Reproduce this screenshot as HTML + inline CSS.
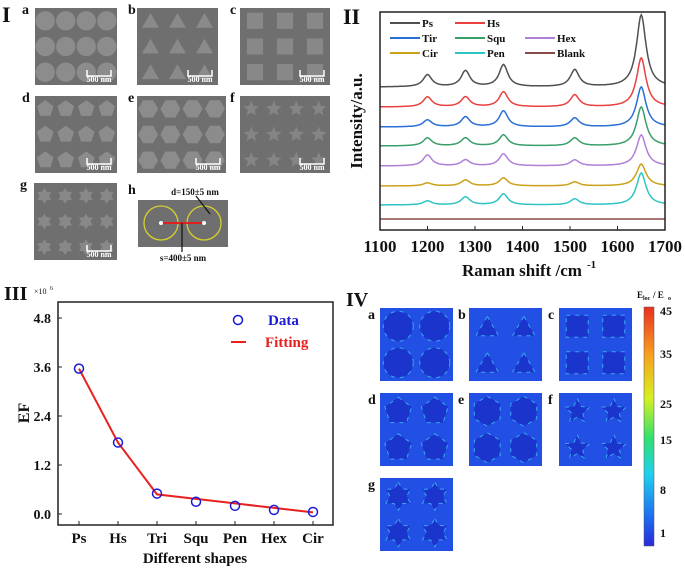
<!DOCTYPE html>
<html><head><meta charset="utf-8"><style>
html,body{margin:0;padding:0;background:#fff}
svg{display:block;font-family:"Liberation Serif",serif;font-weight:bold}
</style></head><body>
<svg id="fig" width="685" height="571" viewBox="0 0 685 571" xmlns="http://www.w3.org/2000/svg">
<defs>
<linearGradient id="jet" x1="0" y1="1" x2="0" y2="0">
<stop offset="0" stop-color="#2a2ad8"/><stop offset="0.12" stop-color="#1d6cf0"/><stop offset="0.3" stop-color="#20d0f0"/><stop offset="0.45" stop-color="#30e070"/><stop offset="0.62" stop-color="#d8f020"/><stop offset="0.8" stop-color="#f8a020"/><stop offset="1" stop-color="#e83020"/>
</linearGradient>
</defs>
<g id="p1"></g>
<g id="p2"></g>
<g id="p3"></g>
<g id="p4"></g>
</svg>
<script>
const NS="http://www.w3.org/2000/svg";
function mk(p,t,a,txt){const e=document.createElementNS(NS,t);for(const k in a)e.setAttribute(k,a[k]);if(txt!==undefined)e.textContent=txt;p.appendChild(e);return e;}

// ---- Panel II data ----
const ramanSeries=["Ps","Hs","Tir","Squ","Hex","Cir","Pen","Blank"];
const ramanColors=["#505050","#e8413f","#2a6fd6","#3a9e6a","#b07fd8","#c9a21a","#2ec4c4","#8b4a4a"];
const ramanPeakPos=[1200,1280,1360,1510,1650];
const ramanOffsets=[143,123,103,84,64,44,25,11];
const ramanPsAmp=[12,16,22,17,72];
const ramanHsAmp=[10,10,15,12,49];
const ramanTirAmp=[7,10,16,9,40];
const ramanSquAmp=[8,8,11,8,39];
const ramanHexAmp=[11,6,12,6,31];
const ramanCirAmp=[3,6,8,4,22];
const ramanPenAmp=[4,8,11,6,32];
const ramanBlankAmp=[0,0,0,0,0];
const ramanAmps=[ramanPsAmp,ramanHsAmp,ramanTirAmp,ramanSquAmp,ramanHexAmp,ramanCirAmp,ramanPenAmp,ramanBlankAmp];
const ramanXTicks=[1100,1200,1300,1400,1500,1600,1700];

// ---- Panel III data ----
const efCategories=["Ps","Hs","Tri","Squ","Pen","Hex","Cir"];
const efData=[3.56,1.75,0.50,0.30,0.20,0.10,0.05];
const efFit=[3.56,1.75,0.48,0.37,0.26,0.15,0.04];
const efYTicks=[0.0,1.2,2.4,3.6,4.8];
const cbTicks=[1,8,15,25,35,45];

// ===== Panel I =====
const p1=document.getElementById('p1');
mk(p1,'text',{x:2,y:22,'font-size':22,fill:'#111'},'I');
const tiles=[["a",35,8,82,77,"circle"],["b",137,8,81,77,"tri"],["c",240,8,90,77,"sq"],
["d",35,96,82,77,"pent"],["e",137,96,89,77,"hex"],["f",240,96,90,77,"star"],["g",34,183,83,77,"star6"]];
function poly(n,cx,cy,r,rot,inner){let pts=[];const m=inner?2*n:n;for(let i=0;i<m;i++){const a=rot+i*2*Math.PI/m;const rr=inner&&i%2?r*inner:r;pts.push((cx+rr*Math.sin(a)).toFixed(1)+","+(cy-rr*Math.cos(a)).toFixed(1));}return pts.join(" ");}
tiles.forEach(t=>{const [l,x,y,w,h,s]=t;
 const g=mk(p1,'g',{});
 
 
 mk(g,'rect',{x:x,y:y,width:w,height:h,fill:'#6f6f6f'});
 const cols=s==="sq"||s==="tri"?3:4;const sx=w/cols,sy=h/3;
 for(let i=0;i<cols;i++)for(let j=0;j<3;j++){const cx=x+sx*(i+0.5),cy=y+sy*(j+0.5);let r=Math.min(sx,sy)*0.45;
  if(s==="circle")mk(g,'circle',{cx,cy,r:r*1.05,fill:'#8c8c8c'});
  else if(s==="sq")mk(g,'rect',{x:cx-r*0.7,y:cy-r*0.7,width:r*1.4,height:r*1.4,fill:'#888'});
  else if(s==="tri")mk(g,'polygon',{points:poly(3,cx,cy+2,r*0.85,0),fill:'#8a8a8a'});
  else if(s==="pent")mk(g,'polygon',{points:poly(5,cx,cy,r*0.95,0),fill:'#8c8c8c'});
  else if(s==="hex")mk(g,'polygon',{points:poly(6,cx,cy,r,Math.PI/6),fill:'#8c8c8c'});
  else if(s==="star")mk(g,'polygon',{points:poly(5,cx,cy,r*0.8,0,0.45),fill:'#858585'});
  else mk(g,'polygon',{points:poly(6,cx,cy,r*0.85,0,0.6),fill:'#888'});}
 mk(g,'path',{d:`M${x+w-30} ${y+h-15}v6h24v-6`,stroke:'#fff','stroke-width':1.5,fill:'none'});
 mk(g,'text',{x:x+w-18,y:y+h-3,'font-size':8,fill:'#fff','text-anchor':'middle'},'500 nm');
 const lx=x<100?22:(x<200?128:230);
 mk(p1,'text',{x:l==="g"?20:lx,y:y+6,'font-size':14,fill:'#111'},l);
});
mk(p1,'text',{x:128,y:194,'font-size':14,fill:'#111'},'h');
mk(p1,'rect',{x:138,y:200,width:90,height:47,fill:'#6f6f6f'});
mk(p1,'circle',{cx:161,cy:223,r:17,fill:'none',stroke:'#d8d030','stroke-width':1.3});
mk(p1,'circle',{cx:204,cy:223,r:17,fill:'none',stroke:'#d8d030','stroke-width':1.3});
mk(p1,'line',{x1:161,y1:223,x2:204,y2:223,stroke:'#e02020','stroke-width':2});
mk(p1,'circle',{cx:161,cy:223,r:2,fill:'#fff'});mk(p1,'circle',{cx:204,cy:223,r:2,fill:'#fff'});
mk(p1,'line',{x1:196,y1:196,x2:210,y2:214,stroke:'#111','stroke-width':1.2});
mk(p1,'line',{x1:182,y1:223,x2:182,y2:252,stroke:'#111','stroke-width':1.2});
mk(p1,'text',{x:195,y:195,'font-size':9,fill:'#111','text-anchor':'middle'},'d=150±5 nm');
mk(p1,'text',{x:183,y:261,'font-size':9,fill:'#111','text-anchor':'middle'},'s=400±5 nm');

// ===== Panel II =====
const p2=document.getElementById('p2');
const X0=380,X1=665,Y0=12,Y1=230;
const xs=v=>X0+(v-1100)/600*(X1-X0);
const ys=v=>Y1-v;
mk(p2,'text',{x:343,y:24,'font-size':22,fill:'#111'},'II');
ramanSeries.forEach((n,si)=>{let d="";
 for(let w=1100;w<=1700;w+=2){let v=ramanOffsets[si];
  ramanPeakPos.forEach((p,k)=>{const gam=k===4?12:11;v+=ramanAmps[si][k]*gam*gam/((w-p)*(w-p)+gam*gam);});
  d+=(w===1100?"M":"L")+xs(w).toFixed(1)+" "+ys(v).toFixed(1);}
 const e=mk(p2,'path',{d,fill:'none',stroke:ramanColors[si],'stroke-width':1.5});
 
 
});
mk(p2,'rect',{x:X0,y:Y0,width:X1-X0,height:Y1-Y0,fill:'none',stroke:'#222','stroke-width':1.5});
ramanXTicks.forEach(t=>{mk(p2,'line',{x1:xs(t),y1:Y1,x2:xs(t),y2:Y1-4,stroke:'#222'});
 mk(p2,'text',{x:xs(t),y:252,'font-size':17,'text-anchor':'middle',fill:'#111'},t);});
mk(p2,'text',{x:522,y:276,'font-size':17,'text-anchor':'middle',fill:'#111'},'Raman shift /cm');
mk(p2,'text',{x:587,y:268,'font-size':11,fill:'#111'},'-1');
mk(p2,'text',{x:0,y:0,'font-size':17,'text-anchor':'middle',fill:'#111',transform:'translate(362,121) rotate(-90)'},'Intensity/a.u.');
const legPos=[[390,23],[455,23],[390,38],[455,38],[525,38],[390,53],[455,53],[525,53]];
const legOrder=[0,1,2,3,4,5,6,7];
legOrder.forEach((si,i)=>{const [lx,ly]=legPos[i];const g=mk(p2,'g',{});
 
 
 mk(g,'line',{x1:lx,y1:ly,x2:lx+30,y2:ly,stroke:ramanColors[si],'stroke-width':2});
 mk(g,'text',{x:lx+32,y:ly+4,'font-size':11,fill:'#111'},ramanSeries[si]);});

// ===== Panel III =====
const p3=document.getElementById('p3');
const A0=58,A1=333,B0=302,B1=525;
const cx3=i=>79+i*39;
const cy3=v=>514-v/1.2*49;
mk(p3,'text',{x:4,y:300,'font-size':20,fill:'#111'},'III');
mk(p3,'text',{x:34,y:294,'font-size':8,'font-weight':'normal',fill:'#111'},'×10');
mk(p3,'text',{x:50,y:290,'font-size':6,'font-weight':'normal',fill:'#111'},'6');
mk(p3,'rect',{x:A0,y:B0,width:A1-A0,height:B1-B0,fill:'none',stroke:'#222','stroke-width':1.5});
efYTicks.forEach(t=>{mk(p3,'line',{x1:A0,y1:cy3(t),x2:A0+4,y2:cy3(t),stroke:'#222'});
 mk(p3,'text',{x:51,y:cy3(t)+5,'font-size':14,'text-anchor':'end',fill:'#111'},t.toFixed(1));});
efCategories.forEach((c,i)=>{mk(p3,'line',{x1:cx3(i),y1:B1,x2:cx3(i),y2:B1-4,stroke:'#222'});
 mk(p3,'text',{x:cx3(i),y:543,'font-size':15,'text-anchor':'middle',fill:'#111'},c);});
mk(p3,'text',{x:195,y:563,'font-size':15,'text-anchor':'middle',fill:'#111'},'Different shapes');
mk(p3,'text',{x:0,y:0,'font-size':16,'text-anchor':'middle',fill:'#111',transform:'translate(29,413) rotate(-90)'},'EF');
const fl=mk(p3,'path',{d:efFit.map((v,i)=>(i?"L":"M")+cx3(i)+" "+cy3(v)).join(""),fill:'none',stroke:'#e82020','stroke-width':2});


efData.forEach((v,i)=>{const c=mk(p3,'circle',{cx:cx3(i),cy:cy3(v),r:4.5,fill:'none',stroke:'#1a1ad8','stroke-width':1.5});
 
 });
mk(p3,'circle',{cx:238,cy:320,r:4.5,fill:'none',stroke:'#1a1ad8','stroke-width':1.5});
mk(p3,'text',{x:268,y:325,'font-size':15,fill:'#1a1ad8'},'Data');
mk(p3,'line',{x1:231,y1:342,x2:246,y2:342,stroke:'#e82020','stroke-width':2});
mk(p3,'text',{x:265,y:347,'font-size':15,fill:'#e82020'},'Fitting');

// ===== Panel IV =====
const p4=document.getElementById('p4');
mk(p4,'text',{x:346,y:306,'font-size':20,fill:'#111'},'IV');
const maps=[["a",380,308,"circle"],["b",469,308,"tri"],["c",559,308,"sq"],["d",380,393,"pent"],["e",469,393,"hex"],["f",559,393,"star"],["g",380,478,"star6"]];
maps.forEach(m=>{const [l,x,y,s]=m;const w=73,h=73;const g=mk(p4,'g',{});
 
 
 mk(g,'rect',{x,y,width:w,height:h,fill:'#2250e4'});
 for(let i=0;i<2;i++)for(let j=0;j<2;j++){const cx=x+w*(i*0.5+0.25),cy=y+h*(j*0.5+0.25);
  let e;
  if(s==="circle")e=mk(g,'circle',{cx,cy,r:15});
  else if(s==="sq")e=mk(g,'rect',{x:cx-11,y:cy-11,width:22,height:22});
  else if(s==="tri")e=mk(g,'polygon',{points:poly(3,cx,cy+3,13,0)});
  else if(s==="pent")e=mk(g,'polygon',{points:poly(5,cx,cy,14,0)});
  else if(s==="hex")e=mk(g,'polygon',{points:poly(6,cx,cy,15,0)});
  else if(s==="star")e=mk(g,'polygon',{points:poly(5,cx,cy,13,0,0.45)});
  else e=mk(g,'polygon',{points:poly(6,cx,cy,14,0,0.6)});
  e.setAttribute('fill','#1a34cc');e.setAttribute('stroke','#3aa8f0');e.setAttribute('stroke-width','1');e.setAttribute('stroke-dasharray','4 5');}
 mk(p4,'text',{x:l==="a"||l==="d"||l==="g"?368:(l==="b"||l==="e"?458:548),y:y+11,'font-size':14,fill:'#111'},l);
});
mk(p4,'rect',{x:644,y:307,width:10,height:239,fill:'url(#jet)',stroke:'#555','stroke-width':0.5});
const cbY=[533,490,440,404,354,311];
cbTicks.forEach((t,i)=>mk(p4,'text',{x:660,y:cbY[i]+4,'font-size':12,fill:'#111'},t));
mk(p4,'text',{x:637,y:298,'font-size':9,fill:'#111'},'E');
mk(p4,'text',{x:643,y:300,'font-size':6,fill:'#111'},'loc');
mk(p4,'text',{x:653,y:298,'font-size':9,fill:'#111'},'/ E');
mk(p4,'text',{x:668,y:300,'font-size':6,fill:'#111'},'o');
</script>
</body></html>
